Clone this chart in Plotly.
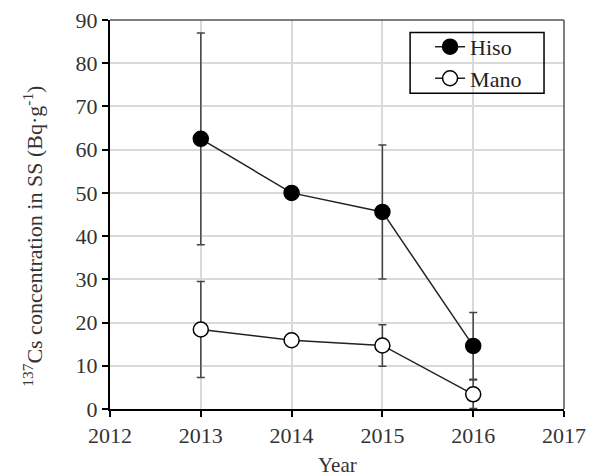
import plotly.graph_objects as go

years = [2013, 2014, 2015, 2016]
hiso = [62.5, 50.0, 45.6, 14.6]
hiso_err = [24.5, 0, 15.5, 7.7]
mano = [18.4, 15.9, 14.7, 3.4]
mano_err = [11.1, 0, 4.8, 3.3]

font = "Liberation Serif, Times New Roman, serif"

fig = go.Figure()
fig.add_trace(go.Scatter(
    x=years, y=hiso, name="Hiso", mode="lines+markers",
    line=dict(color="#222222", width=1.5),
    marker=dict(symbol="circle", size=15, color="black", line=dict(color="black", width=1.5)),
    error_y=dict(type="data", array=hiso_err, visible=True, color="#444444", thickness=1.5, width=4),
))
fig.add_trace(go.Scatter(
    x=years, y=mano, name="Mano", mode="lines+markers",
    line=dict(color="#222222", width=1.5),
    marker=dict(symbol="circle", size=15, color="white", line=dict(color="black", width=1.5)),
    error_y=dict(type="data", array=mano_err, visible=True, color="#444444", thickness=1.5, width=4),
))

fig.update_layout(
    width=596, height=476,
    margin=dict(l=102, r=40, t=12, b=75, autoexpand=False),
    plot_bgcolor="white", paper_bgcolor="white",
    font=dict(family=font, size=22, color="#333333"),
    showlegend=True,
    legend=dict(x=0.705, y=0.985, xanchor="left", yanchor="top",
                borderwidth=0, bgcolor="rgba(0,0,0,0)",
                font=dict(size=22, color="#222222"), tracegroupgap=0),
    xaxis=dict(range=[2012, 2017], tickmode="array", tickvals=[2012, 2013, 2014, 2015, 2016, 2017],
               showgrid=True, gridcolor="#d9d9d9", gridwidth=1.5,
               showline=True, linecolor="black", linewidth=2, mirror=False,
               ticks="outside", ticklen=6, tickwidth=2, tickcolor="black",
               ticklabeloverflow="allow", zeroline=False),
    yaxis=dict(range=[0, 90], tickmode="array", tickvals=list(range(0, 91, 10)),
               showgrid=True, gridcolor="#d9d9d9", gridwidth=1.5,
               showline=True, linecolor="black", linewidth=2, mirror=False,
               ticks="outside", ticklen=6, tickwidth=2, tickcolor="black",
               ticklabeloverflow="allow", zeroline=False),
)
# frame lines top/right
fig.add_shape(type="line", xref="paper", yref="paper", x0=0, x1=1, y0=1, y1=1,
              line=dict(color="#555555", width=1.5))
fig.add_shape(type="line", xref="paper", yref="paper", x0=1, x1=1, y0=0, y1=1,
              line=dict(color="#555555", width=1.5))
# legend frame
fig.add_shape(type="rect", xref="paper", yref="paper", x0=0.661, x1=0.956, y0=0.812, y1=0.968,
              line=dict(color="black", width=1.5), fillcolor="rgba(0,0,0,0)", layer="above")

fig.add_annotation(text="<sup>137</sup>Cs concentration in SS (Bq·g<sup>-1</sup>)",
                   xref="paper", yref="paper", x=-0.17, y=0.445, textangle=-90,
                   showarrow=False, xanchor="center", yanchor="middle",
                   font=dict(size=22, color="#333333"))
fig.add_annotation(text="Year", xref="paper", yref="paper", x=0.5, y=-0.145,
                   showarrow=False, xanchor="center", yanchor="middle",
                   font=dict(size=21, color="#333333"))

fig.write_html("out.html")
